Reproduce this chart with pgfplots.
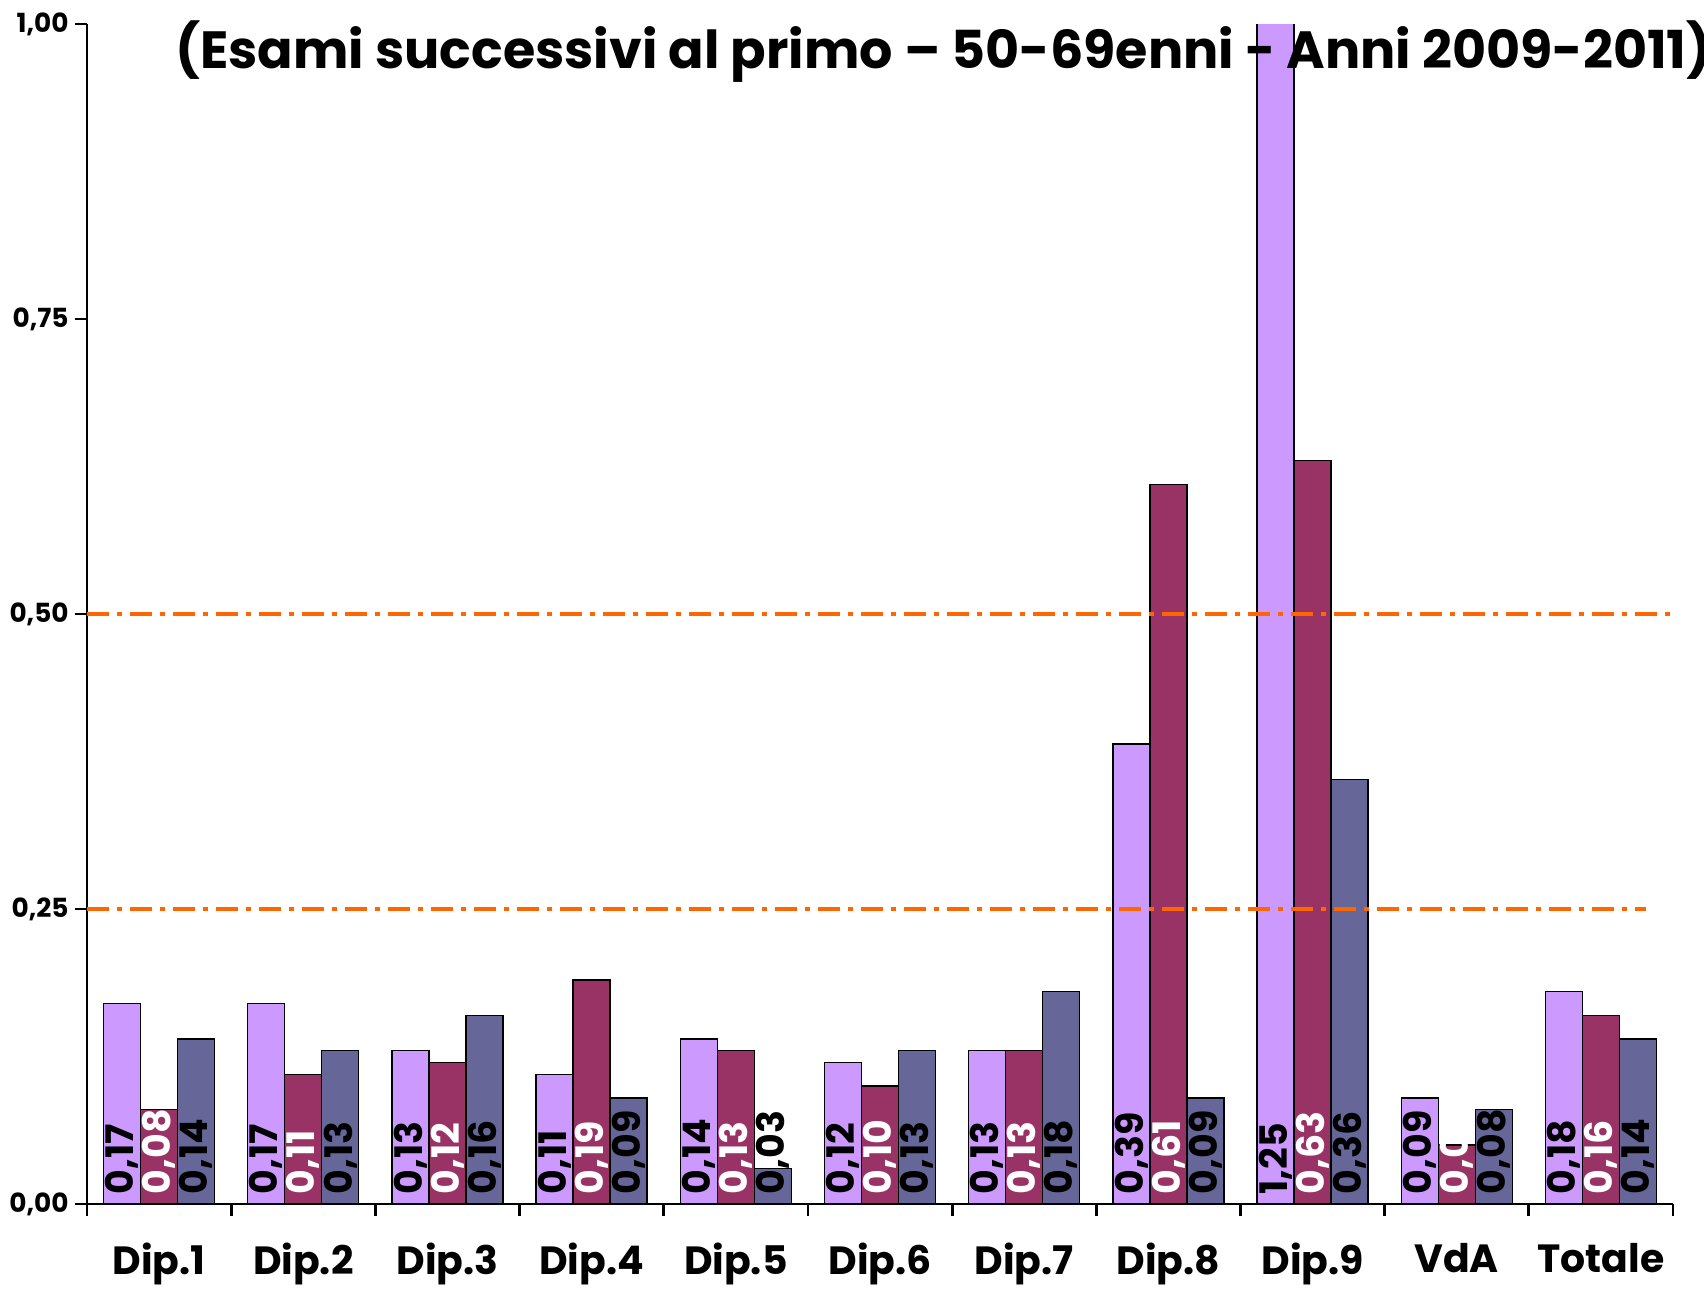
\documentclass[border=0pt]{standalone}
\usepackage{graphicx}
\usepackage{pgfplots}
\usepackage{pgfplotstable}
\pgfplotsset{compat=1.18}
\usepackage{fontspec}
\setmainfont{Poppins}

\definecolor{lilla}{HTML}{CC99FF}
\definecolor{vino}{HTML}{993366}
\definecolor{blugrigio}{HTML}{666699}
\definecolor{arancio}{HTML}{FF6600}

% x = categoria (0..10), y = valore, lab = etichetta mostrata
\pgfplotstableread{
x y lab
0 0.17 0,17
1 0.17 0,17
2 0.13 0,13
3 0.11 0,11
4 0.14 0,14
5 0.12 0,12
6 0.13 0,13
7 0.39 0,39
8 1.25 1,25
9 0.09 0,09
10 0.18 0,18
}\serieA
\pgfplotstableread{
x y lab
0 0.08 0,08
1 0.11 0,11
2 0.12 0,12
3 0.19 0,19
4 0.13 0,13
5 0.10 0,10
6 0.13 0,13
7 0.61 0,61
8 0.63 0,63
9 0.05 0,05
10 0.16 0,16
}\serieB
\pgfplotstableread{
x y lab
0 0.14 0,14
1 0.13 0,13
2 0.16 0,16
3 0.09 0,09
4 0.03 0,03
5 0.13 0,13
6 0.18 0,18
7 0.09 0,09
8 0.36 0,36
9 0.08 0,08
10 0.14 0,14
}\serieC

% etichette ruotate alla base delle barre
\pgfplotsset{
  etichetta/.style 2 args={
    draw=none, mark=none, forget plot,
    nodes near coords={\rotatebox{90}{\pgfplotspointmeta}},
    point meta=explicit symbolic,
    nodes near coords style={anchor=south, inner sep=0pt, yshift=0.9mm, xshift=#2,
      font=\bfseries\fontsize{10.8}{12}\selectfont, text=#1},
  },
}

\begin{document}
\begin{tikzpicture}
\begin{axis}[
  scale only axis,
  width=158.6mm, height=118mm,
  xmin=-0.5, xmax=10.5, ymin=0, ymax=1,
  axis x line*=bottom, axis y line*=left,
  axis line style={line width=0.8pt},
  xtick={-0.5,0.5,...,10.5},
  x tick label as interval,
  xticklabels={Dip.1,Dip.2,Dip.3,Dip.4,Dip.5,Dip.6,Dip.7,Dip.8,Dip.9,VdA,Totale},
  ytick={0,0.25,0.5,0.75,1},
  tick align=outside,
  major tick length=1.2mm,
  tick style={line width=0.8pt, black},
  /pgf/number format/assume math mode=true,
  y tick label style={/pgf/number format/.cd, use comma, fixed, fixed zerofill, precision=2,
    /tikz/.cd, font=\bfseries\fontsize{7.5}{8}\selectfont, xshift=0.6mm},
  x tick label style={font=\bfseries\fontsize{11.2}{13}\selectfont, yshift=-1.5mm},
]
\addplot[ybar, bar width=3.7mm, bar shift=-3.7mm, fill=lilla, draw=black]
  table[x=x, y=y] {\serieA};
\addplot[ybar, bar width=3.7mm, bar shift=0mm, fill=vino, draw=black]
  table[x=x, y=y] {\serieB};
\addplot[ybar, bar width=3.7mm, bar shift=3.7mm, fill=blugrigio, draw=black]
  table[x=x, y=y] {\serieC};
\addplot[etichetta={black}{-3.7mm}] table[x=x, y expr=0, meta=lab] {\serieA};
\addplot[etichetta={white}{0mm}] table[x=x, y expr=0, meta=lab] {\serieB};
\addplot[etichetta={black}{3.7mm}] table[x=x, y expr=0, meta=lab] {\serieC};
\addplot[arancio, line width=1pt, dash pattern=on 2.2mm off 0.8mm on 0.5mm off 0.8mm]
  coordinates {(-0.5,0.5) (10.5,0.5)};
\addplot[arancio, line width=1pt, dash pattern=on 2.2mm off 0.8mm on 0.5mm off 0.8mm]
  coordinates {(-0.5,0.25) (10.31,0.25)};
\coordinate (ll) at (rel axis cs:0,0);
\coordinate (ur) at (rel axis cs:1,1);
\coordinate (tt) at (rel axis cs:0.54,0.977);
\end{axis}
\node[font=\bfseries\fontsize{14.9}{16}\selectfont] at (tt)
  {(Esami successivi al primo – 50-69enni - Anni 2009-2011)};
\pgfresetboundingbox
\path ([shift={(-8.7mm,-8.5mm)}]ll) rectangle ([shift={(3.1mm,2.4mm)}]ur);
\end{tikzpicture}
\end{document}
